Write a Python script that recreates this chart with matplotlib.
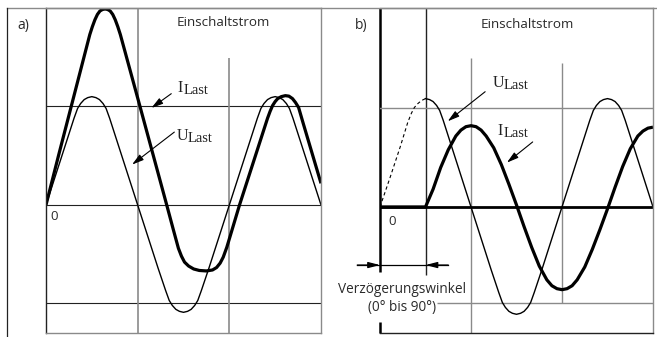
import matplotlib
matplotlib.use('Agg')
import matplotlib.pyplot as plt
from matplotlib.lines import Line2D

plt.rcParams['font.family'] = ['Open Sans', 'DejaVu Sans']

# ---------------- data (angle in degrees, value in p.u.) ----------------
# a) switching at voltage zero
ua_ang = [0, 20, 40, 55, 62, 68, 75, 82, 90, 98, 105, 112, 118, 125, 140, 160, 180,
          200, 220, 235, 242, 248, 255, 262, 270, 278, 285, 292, 298, 305, 320, 340, 360,
          380, 400, 415, 422, 428, 435, 442, 450, 458, 465, 472, 478, 485, 500, 520, 540]
ua_val = [0, 0.32, 0.64, 0.88, 0.98, 1.03, 1.07, 1.09, 1.10, 1.09, 1.07, 1.03, 0.98, 0.88, 0.64, 0.32, 0,
          -0.32, -0.64, -0.87, -0.97, -1.02, -1.06, -1.08, -1.09, -1.08, -1.06, -1.02, -0.97, -0.87, -0.64, -0.32, 0,
          0.32, 0.64, 0.88, 0.98, 1.03, 1.07, 1.09, 1.10, 1.09, 1.07, 1.03, 0.98, 0.88, 0.64, 0.32, 0]

ia_ang = [0, 25, 55, 80, 86, 91, 96, 101, 106, 111, 116, 121, 126, 131, 136, 141, 146, 183, 236,
          250, 260, 266, 272, 280, 290, 301, 315, 327, 335, 342, 348, 355, 362, 380,
          435, 440, 445, 450, 455, 462, 470, 477, 484, 490, 496, 505, 540]
ia_val = [0, 0.51, 1.11, 1.61, 1.73, 1.81, 1.88, 1.935, 1.97, 1.985, 1.99, 1.985, 1.97, 1.935, 1.88, 1.81, 1.73, 1.03, 0.02,
          -0.25, -0.44, -0.52, -0.58, -0.62, -0.65, -0.665, -0.67, -0.66, -0.635, -0.59, -0.53, -0.43, -0.31, 0,
          0.88, 0.95, 1.01, 1.05, 1.08, 1.10, 1.11, 1.105, 1.08, 1.04, 0.99, 0.83, 0.22]

# b) switching delayed to voltage peak
ub_dash_ang = [0, 20, 40, 55, 62, 68, 75, 82, 90]
ub_dash_val = [0, 0.30, 0.61, 0.86, 0.95, 1.01, 1.05, 1.08, 1.10]

ub_ang = [90, 98, 105, 112, 118, 125, 140, 160, 180,
          200, 220, 235, 242, 248, 255, 262, 270, 278, 285, 292, 298, 305, 320, 340, 360,
          380, 400, 415, 422, 428, 435, 442, 450, 458, 465, 472, 478, 485, 500, 520, 540]
ub_val = [1.10, 1.09, 1.07, 1.03, 0.98, 0.88, 0.64, 0.32, 0,
          -0.32, -0.64, -0.87, -0.97, -1.02, -1.06, -1.08, -1.09, -1.08, -1.06, -1.02, -0.97, -0.87, -0.64, -0.32, 0,
          0.32, 0.64, 0.88, 0.98, 1.03, 1.07, 1.09, 1.10, 1.09, 1.07, 1.03, 0.98, 0.88, 0.64, 0.32, 0]

ib_ang = [0, 90, 105, 120, 135, 150, 160, 170, 180, 190, 200, 210, 225, 240, 255, 270, 285, 300, 315,
          330, 340, 350, 360, 370, 380, 390, 405, 420, 435, 450, 465, 480, 495, 510, 520, 530, 540]
ib_val = [0, 0, 0.18, 0.40, 0.58, 0.72, 0.78, 0.815, 0.825, 0.815, 0.78, 0.72, 0.60, 0.43, 0.23, 0.02, -0.20, -0.41, -0.60,
          -0.74, -0.80, -0.83, -0.84, -0.83, -0.80, -0.74, -0.61, -0.43, -0.23, -0.02, 0.20, 0.41, 0.59, 0.72, 0.77, 0.80, 0.81]

title = 'Einschaltstrom'
delay_text = 'Verzögerungswinkel\n(0° bis 90°)'

# ---------------- figure ----------------
W, H = 657, 337
fig = plt.figure(figsize=(W / 100, H / 100), dpi=100)
ax_a = fig.add_axes([46 / W, 4 / H, 275 / W, 325 / H])
ax_b = fig.add_axes([380 / W, 4 / H, 273 / W, 325 / H])

gray = '#8a8a8a'
dark = '#222222'
txt = '#2a2a2a'

# outer frame of the figure (top line and left line of panel a)
fig.add_artist(Line2D([7 / W, 1], [1 - 8 / H, 1 - 8 / H], color=gray, lw=1.0))
fig.add_artist(Line2D([7 / W, 7 / W], [0, 1 - 8 / H], color=dark, lw=0.9))

for ax in (ax_a, ax_b):
    ax.set_xlim(0, 540)
    ax.set_xticks([])
    ax.set_yticks([])
    for s in ax.spines.values():
        s.set_color(gray)
        s.set_linewidth(1.0)

ax_a.set_ylim(-1.30, 2.0)
ax_b.set_ylim(-1.28, 2.02)

# --- panel a ---
ax_a.spines['left'].set_color(dark)
ax_a.axhline(1, color=dark, lw=0.8)
ax_a.axhline(0, color=dark, lw=0.8)
ax_a.axhline(-1, color=dark, lw=0.8)
ax_a.axvline(180, color=gray, lw=1.2)
ax_a.vlines(360, -1.30, 1.49, color=gray, lw=1.2)

ax_a.plot(ua_ang, ua_val, color='black', lw=1.0)
ax_a.plot(ia_ang, ia_val, color='black', lw=2.3, solid_capstyle='butt', solid_joinstyle='round')

# --- panel b ---
ax_b.spines['left'].set_visible(False)
ax_b.spines['bottom'].set_color(dark)
ax_b.vlines(0, -0.66, 2.02, color='black', lw=1.8, clip_on=False)
ax_b.vlines(0, -1.28, -1.17, color='black', lw=1.8, clip_on=False)
ax_b.vlines(90, -0.69, 2.02, color=dark, lw=1.0)
ax_b.vlines(180, -1.28, 1.51, color=gray, lw=1.0)
ax_b.vlines(360, -0.975, 1.46, color=gray, lw=1.0)
ax_b.axhline(1, color=gray, lw=1.0)
ax_b.hlines(-0.975, 112, 540, color=gray, lw=1.0)
ax_b.axhline(0, color='black', lw=2.0)

ax_b.plot(ub_dash_ang, ub_dash_val, color='black', lw=0.8, ls=(0, (3, 2.5)))
ax_b.plot(ub_ang, ub_val, color='black', lw=1.0)
ax_b.plot(ib_ang, ib_val, color='black', lw=2.3, solid_capstyle='butt', solid_joinstyle='round')

# delay angle dimension
ax_b.plot([-45, 135], [-0.59, -0.59], color='black', lw=0.9, clip_on=False)
arr = dict(arrowstyle='-|>,head_length=0.7,head_width=0.18', color='black', lw=0.9,
           shrinkA=0, shrinkB=0, mutation_scale=10)
ax_b.annotate('', xy=(0, -0.59), xytext=(-45, -0.59), arrowprops=arr, annotation_clip=False)
ax_b.annotate('', xy=(90, -0.59), xytext=(135, -0.59), arrowprops=arr, annotation_clip=False)
ax_b.text(43, -0.93, delay_text, ha='center', va='center', fontsize=9.8, color=txt,
          linespacing=1.3, clip_on=False)

# --- texts ---
fig.text(23 / W, 1 - 26 / H, 'a)', ha='center', va='center', fontsize=10, color=txt)
fig.text(361 / W, 1 - 26 / H, 'b)', ha='center', va='center', fontsize=10, color=txt)
ax_a.text(348, 1.85, title, ha='center', va='center', fontsize=9.7, color=txt)
ax_b.text(291, 1.85, title, ha='center', va='center', fontsize=9.7, color=txt)
ax_a.text(16, -0.12, '0', ha='center', va='center', fontsize=9.5, color=txt)
ax_b.text(24, -0.15, '0', ha='center', va='center', fontsize=9.5, color=txt)

serif = 'Liberation Serif'


def last_label(ax, x, y, main, dx):
    ax.text(x, y, main, family=serif, fontsize=11.5, ha='left', va='baseline', color=dark)
    ax.annotate('Last', (x, y), xytext=(dx, -1.5), textcoords='offset points',
                family=serif, fontsize=10.5, ha='left', va='baseline', color=dark)


pointer = dict(arrowstyle='-|>,head_length=0.7,head_width=0.2', color='black', lw=0.8,
               shrinkA=0, shrinkB=0, mutation_scale=10)

last_label(ax_a, 258, 1.15, 'I', 4.4)
ax_a.annotate('', xy=(207, 0.985), xytext=(246, 1.13), arrowprops=pointer)
last_label(ax_a, 256, 0.66, 'U', 8.0)
ax_a.annotate('', xy=(169, 0.41), xytext=(252, 0.74), arrowprops=pointer)

last_label(ax_b, 223, 1.22, 'U', 8.0)
ax_b.annotate('', xy=(134, 0.87), xytext=(208, 1.17), arrowprops=pointer)
last_label(ax_b, 233, 0.73, 'I', 4.4)
ax_b.annotate('', xy=(251, 0.45), xytext=(302, 0.66), arrowprops=pointer)

fig.savefig('out.png', dpi=100)
